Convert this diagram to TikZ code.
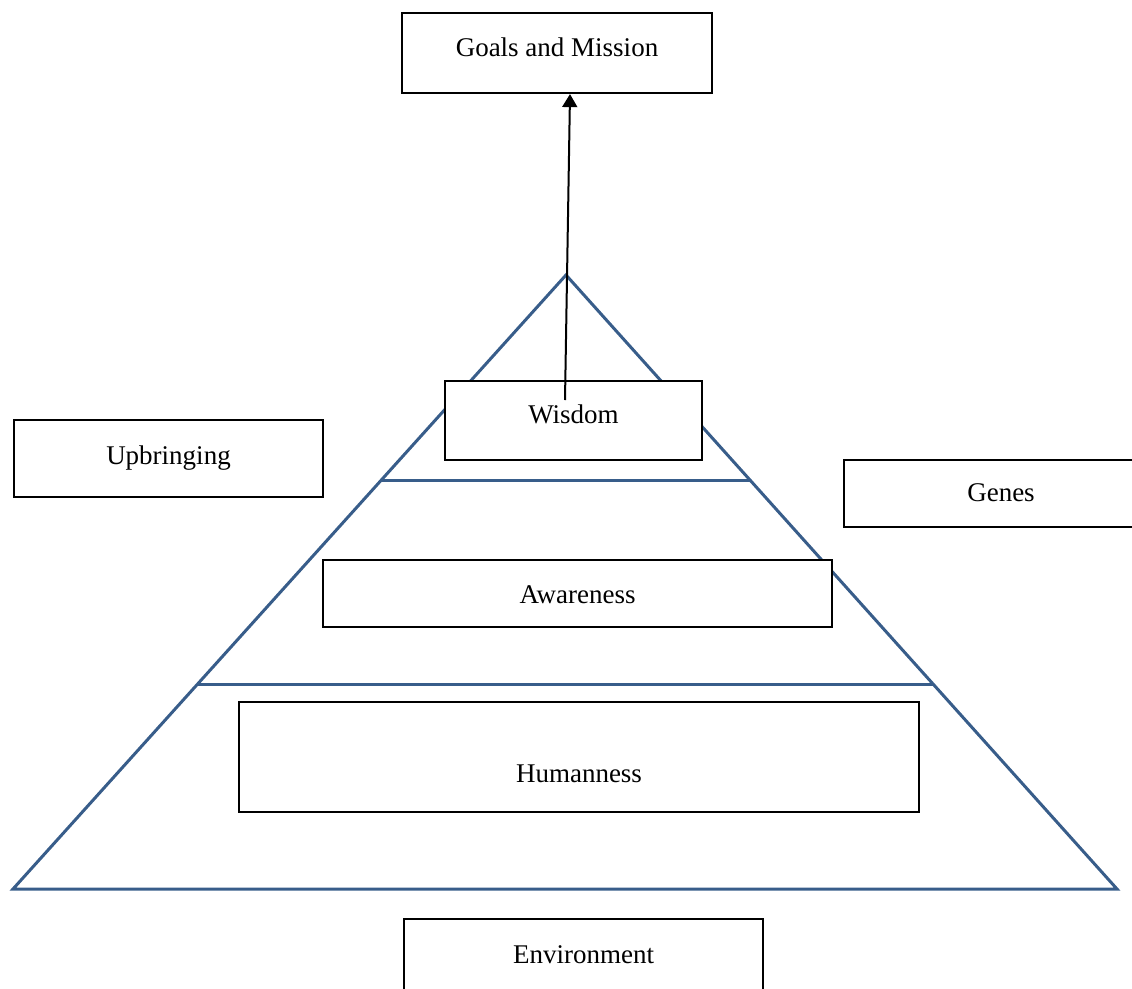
\documentclass[tikz,border=0pt]{standalone}
\usepackage{fontspec}
\setmainfont{Liberation Serif}
\usetikzlibrary{arrows.meta,calc}
\definecolor{pyr}{RGB}{56,93,138}
\tikzset{
  bx/.style n args={3}{draw=black, fill=white, line width=2.2pt, inner sep=0pt,
    minimum width=#1, text height=#2, text depth=#3, anchor=base,
    font=\fontsize{27}{32}\selectfont},
  pyrline/.style={draw=pyr, line width=3pt, line join=miter},
  conn/.style={draw=black, line width=2pt, -{Triangle[length=13pt,width=15pt]}}
}
\begin{document}
\begin{tikzpicture}[x=1pt,y=-1pt]
\useasboundingbox (0,0) rectangle (1132,988);
\clip (0,0) rectangle (1132,988);
% pyramid
\coordinate (apex) at (566,275);
\coordinate (bl) at (13,889);
\coordinate (br) at (1117,889);
\draw[pyrline] (apex) -- (bl) -- (br) -- cycle;
\coordinate (l1) at ($(apex)!0.3339!(bl)$);
\coordinate (r1) at ($(apex)!0.3339!(br)$);
\coordinate (l2) at ($(apex)!0.6661!(bl)$);
\coordinate (r2) at ($(apex)!0.6661!(br)$);
\draw[pyrline] (l1) -- (r1);
\draw[pyrline] (l2) -- (r2);
% boxes
\node[bx={310pt}{43pt}{37pt}] (goals) at (557,56) {Goals and Mission};
\node[bx={257pt}{42pt}{37pt}] (wisdom) at (573.5,423) {Wisdom};
\node[bx={309pt}{44pt}{33pt}] (upbringing) at (168.5,464) {Upbringing};
\node[bx={314pt}{41pt}{26pt}] (genes) at (1001,501) {Genes};
\node[bx={509pt}{43pt}{24pt}] (awareness) at (577.5,603) {Awareness};
\node[bx={680pt}{80pt}{30pt}] (humanness) at (579,782) {Humanness};
\node[bx={359pt}{44pt}{47pt}] (environment) at (583.5,963) {Environment};
% arrow
\coordinate (wstart) at (565,400);
\coordinate (gtip) at ($(goals.south)+(13,0)$);
\draw[conn] (wstart) -- (gtip);
\end{tikzpicture}
\end{document}
